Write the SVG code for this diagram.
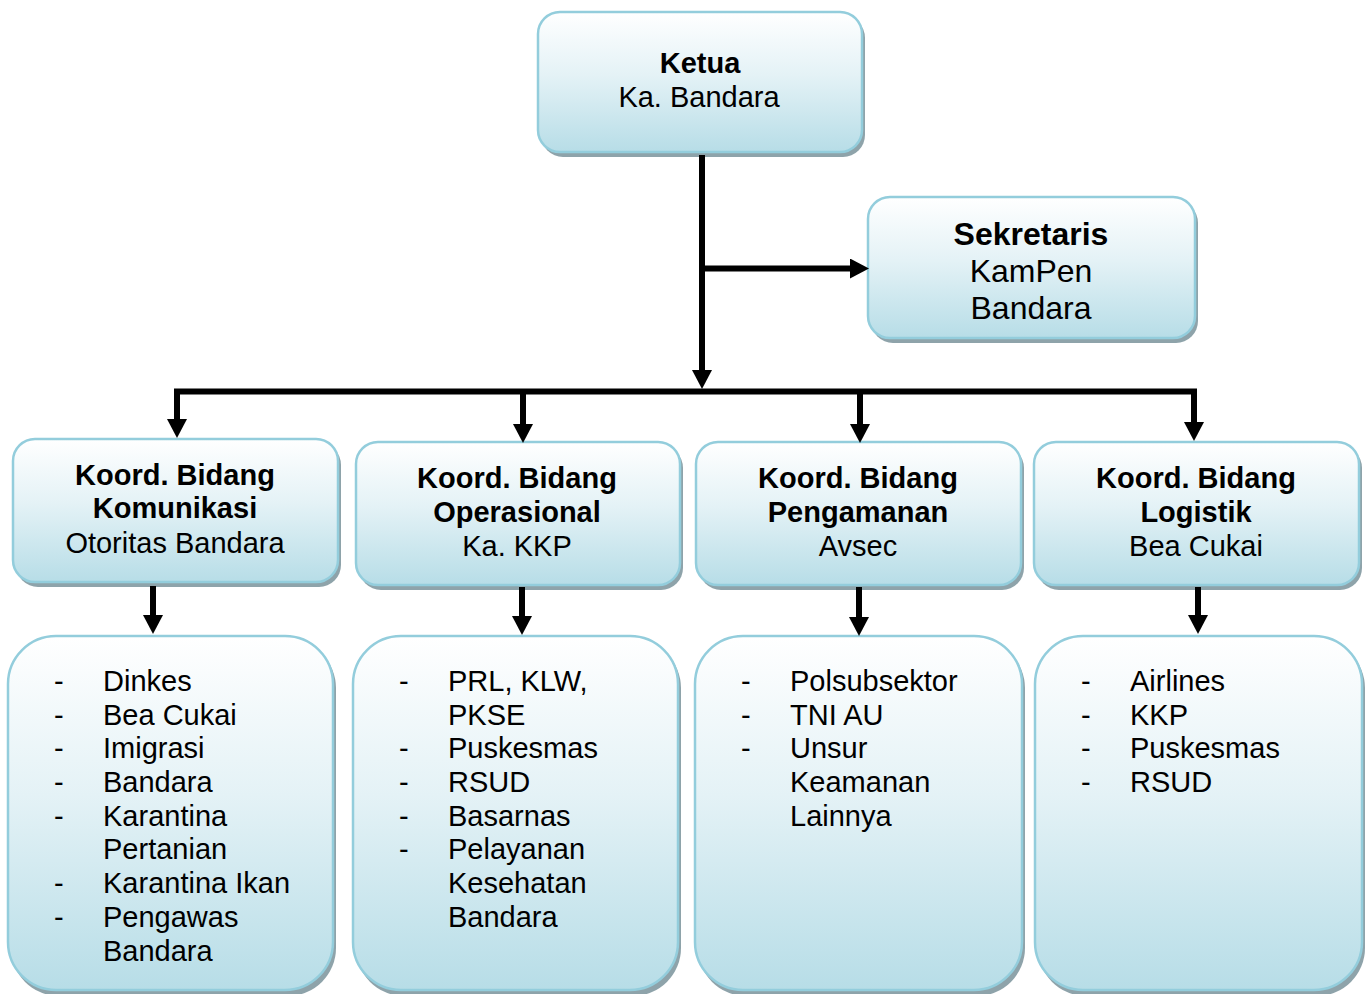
<svg xmlns="http://www.w3.org/2000/svg" width="1370" height="994" viewBox="0 0 1370 994">
<defs>
<linearGradient id="g" x1="0" y1="0" x2="0" y2="1">
<stop offset="0" stop-color="#ffffff"/>
<stop offset="0.45" stop-color="#e4f2f6"/>
<stop offset="1" stop-color="#b7dde7"/>
</linearGradient>
<marker id="arr" markerUnits="userSpaceOnUse" markerWidth="19" markerHeight="20" refX="6" refY="10" orient="auto">
<path d="M0,0 L19,10 L0,20 z" fill="#000"/>
</marker>
</defs>
<style>
.box{fill:url(#g);stroke:#93cddc;stroke-width:2.5}
.sh{fill:#8ea3aa}
text{font-family:"Liberation Sans",Arial,sans-serif;font-size:29px;fill:#000}
.big{font-size:32px}
.c{text-anchor:middle}
.b{font-weight:bold}
.con{stroke:#000;stroke-width:6;fill:none}
.ar{marker-end:url(#arr)}
</style>

<g id="ketua">
<rect class="sh" x="541" y="16" width="324" height="141" rx="22"/>
<rect class="box" x="538" y="12" width="324" height="140" rx="22"/>
<text class="c b" x="700" y="73">Ketua</text>
<text class="c" x="699" y="107">Ka. Bandara</text>
</g>

<g id="sekretaris">
<rect class="sh" x="871" y="201" width="327" height="142" rx="22"/>
<rect class="box" x="868" y="197" width="327" height="141" rx="22"/>
<text class="c b big" x="1031" y="245">Sekretaris</text>
<text class="c big" x="1031" y="282">KamPen</text>
<text class="c big" x="1031" y="319">Bandara</text>
</g>

<g id="koord-komunikasi">
<rect class="sh" x="16" y="443" width="325" height="144" rx="22"/>
<rect class="box" x="13" y="439" width="325" height="143" rx="22"/>
<text class="c b" x="175" y="485">Koord. Bidang</text>
<text class="c b" x="175" y="518">Komunikasi</text>
<text class="c" x="175" y="553">Otoritas Bandara</text>
</g>

<g id="koord-operasional">
<rect class="sh" x="359" y="446" width="324" height="144" rx="22"/>
<rect class="box" x="356" y="442" width="324" height="143" rx="22"/>
<text class="c b" x="517" y="488">Koord. Bidang</text>
<text class="c b" x="517" y="522">Operasional</text>
<text class="c" x="517" y="556">Ka. KKP</text>
</g>

<g id="koord-pengamanan">
<rect class="sh" x="699" y="446" width="325" height="144" rx="22"/>
<rect class="box" x="696" y="442" width="325" height="143" rx="22"/>
<text class="c b" x="858" y="488">Koord. Bidang</text>
<text class="c b" x="858" y="522">Pengamanan</text>
<text class="c" x="858" y="556">Avsec</text>
</g>

<g id="koord-logistik">
<rect class="sh" x="1037" y="446" width="325" height="144" rx="22"/>
<rect class="box" x="1034" y="442" width="325" height="143" rx="22"/>
<text class="c b" x="1196" y="488">Koord. Bidang</text>
<text class="c b" x="1196" y="522">Logistik</text>
<text class="c" x="1196" y="556">Bea Cukai</text>
</g>

<g id="list-komunikasi">
<rect class="sh" x="11" y="640" width="325" height="356" rx="48"/>
<rect class="box" x="8" y="636" width="325" height="354" rx="48"/>
<text x="54" y="691">-</text><text x="103" y="691">Dinkes</text>
<text x="54" y="725">-</text><text x="103" y="725">Bea Cukai</text>
<text x="54" y="758">-</text><text x="103" y="758">Imigrasi</text>
<text x="54" y="792">-</text><text x="103" y="792">Bandara</text>
<text x="54" y="826">-</text><text x="103" y="826">Karantina</text>
<text x="103" y="859">Pertanian</text>
<text x="54" y="893">-</text><text x="103" y="893">Karantina Ikan</text>
<text x="54" y="927">-</text><text x="103" y="927">Pengawas</text>
<text x="103" y="961">Bandara</text>
</g>

<g id="list-operasional">
<rect class="sh" x="356" y="640" width="325" height="356" rx="48"/>
<rect class="box" x="353" y="636" width="325" height="354" rx="48"/>
<text x="399" y="691">-</text><text x="448" y="691">PRL, KLW,</text>
<text x="448" y="725">PKSE</text>
<text x="399" y="758">-</text><text x="448" y="758">Puskesmas</text>
<text x="399" y="792">-</text><text x="448" y="792">RSUD</text>
<text x="399" y="826">-</text><text x="448" y="826">Basarnas</text>
<text x="399" y="859">-</text><text x="448" y="859">Pelayanan</text>
<text x="448" y="893">Kesehatan</text>
<text x="448" y="927">Bandara</text>
</g>

<g id="list-pengamanan">
<rect class="sh" x="698" y="640" width="327" height="356" rx="48"/>
<rect class="box" x="695" y="636" width="327" height="354" rx="48"/>
<text x="741" y="691">-</text><text x="790" y="691">Polsubsektor</text>
<text x="741" y="725">-</text><text x="790" y="725">TNI AU</text>
<text x="741" y="758">-</text><text x="790" y="758">Unsur</text>
<text x="790" y="792">Keamanan</text>
<text x="790" y="826">Lainnya</text>
</g>

<g id="list-logistik">
<rect class="sh" x="1038" y="640" width="327" height="356" rx="48"/>
<rect class="box" x="1035" y="636" width="327" height="354" rx="48"/>
<text x="1081" y="691">-</text><text x="1130" y="691">Airlines</text>
<text x="1081" y="725">-</text><text x="1130" y="725">KKP</text>
<text x="1081" y="758">-</text><text x="1130" y="758">Puskesmas</text>
<text x="1081" y="792">-</text><text x="1130" y="792">RSUD</text>
</g>

<g id="connectors">
<line class="con ar" x1="702" y1="155" x2="702" y2="376"/>
<line class="con ar" x1="702" y1="268.5" x2="856" y2="268.5"/>
<polyline class="con" points="177,410 177,391.5 1194,391.5 1194,410"/>
<line class="con ar" x1="177" y1="391.5" x2="177" y2="425"/>
<line class="con ar" x1="523" y1="391.5" x2="523" y2="430"/>
<line class="con ar" x1="860" y1="391.5" x2="860" y2="430"/>
<line class="con ar" x1="1194" y1="391.5" x2="1194" y2="428"/>
<line class="con ar" x1="153" y1="586" x2="153" y2="621"/>
<line class="con ar" x1="522" y1="587" x2="522" y2="622"/>
<line class="con ar" x1="859" y1="587" x2="859" y2="623"/>
<line class="con ar" x1="1198" y1="587" x2="1198" y2="621"/>
</g>
</svg>
